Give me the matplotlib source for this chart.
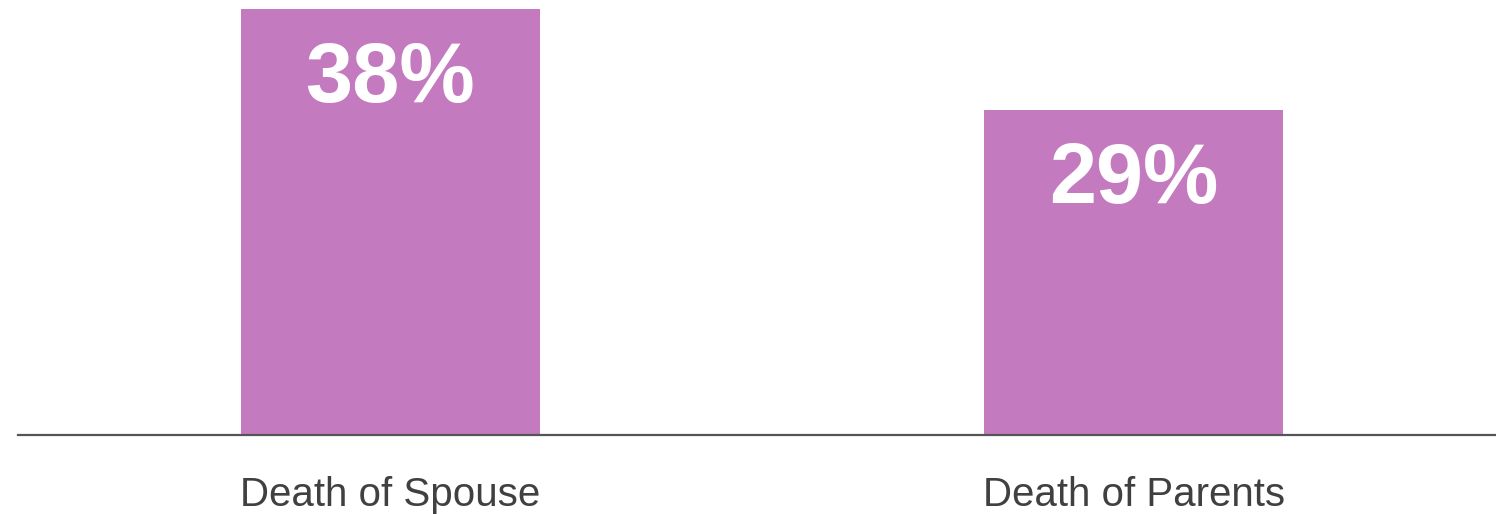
import matplotlib
matplotlib.use("Agg")
import matplotlib.pyplot as plt

categories = ["Death of Spouse", "Death of Parents"]
values = [38, 29]
labels = ["38%", "29%"]

BAR_COLOR = "#C47ABF"

fig = plt.figure(figsize=(14.96, 5.14), dpi=100)
ax = fig.add_axes([18 / 1496, (514 - 435) / 514, 1 - 18 / 1496, 435 / 514])

xs = list(range(len(categories)))
ax.bar(xs, values, width=0.402, color=BAR_COLOR, zorder=2)

# value labels sit inside the bar, baseline ~93px below the bar top
for x, v, lab in zip(xs, values, labels):
    ax.text(x, v - 8.3, lab, ha="center", va="baseline", color="white",
            fontsize=61, fontweight="bold", family="Liberation Sans")

ax.set_xlim(-0.501, 1.487)
ax.set_ylim(0, 38.8)

for s in ["top", "right", "left"]:
    ax.spines[s].set_visible(False)
ax.spines["bottom"].set_color("#555555")
ax.spines["bottom"].set_linewidth(1.6)
ax.set_yticks([])
ax.set_xticks(xs)
ax.set_xticklabels(categories, fontsize=29, color="#404040", family="Liberation Sans")
ax.tick_params(axis="x", length=0, pad=29.5)

fig.savefig("out.png", dpi=100)
